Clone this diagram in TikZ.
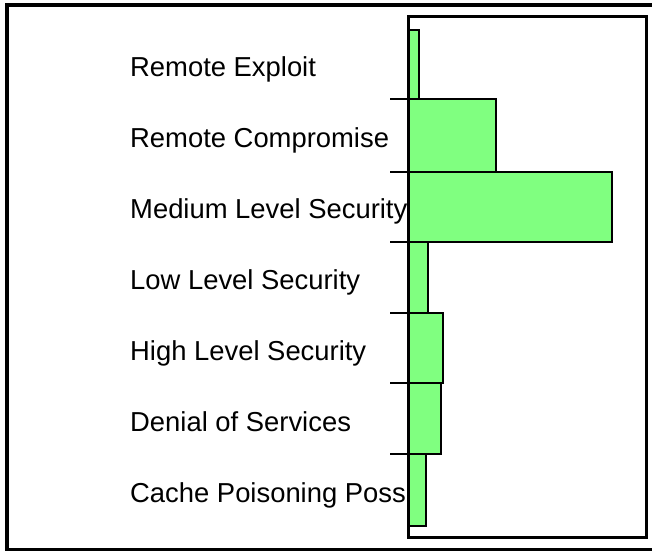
\documentclass[tikz,border=0pt]{standalone}
\usepackage{fontspec}
\setmainfont{Liberation Sans}
\usetikzlibrary{positioning}
\definecolor{bargreen}{RGB}{128,255,128}

\begin{document}
\begin{tikzpicture}[
    x=1pt, y=-1pt,
    outerframe/.style={draw, line width=3.8pt},
    plotframe/.style={draw, line width=2.7pt},
    bar/.style={draw, line width=2.2pt, fill=bargreen},
    tick/.style={draw, line width=1.8pt},
    cat/.style={anchor=base west, inner sep=0pt, font=\fontsize{27.4}{30}\selectfont}
]
\useasboundingbox (0,0) rectangle (652,552);

% Outer frame
\draw[outerframe] (7,5) rectangle (670,549.5);

% Category labels
\node[cat] (exploit)    at (130,76)  {Remote Exploit};
\node[cat] (compromise) at (130,147) {Remote Compromise};
\node[cat] (medium)     at (130,218) {Medium Level Security};
\node[cat] (low)        at (130,289) {Low Level Security};
\node[cat] (high)       at (130,360) {High Level Security};
\node[cat] (denial)     at (130,431) {Denial of Services};
\node[cat] (cache)      at (130,502) {Cache Poisoning Poss};

% Ticks
\foreach \y in {99.3,172.3,241.7,313.3,383.3,454.3}
    \draw[tick] (390,\y) -- (408.7,\y);

% Bars
\draw[bar] (408.7,29.7)  rectangle (418.7,99.3);
\draw[bar] (408.7,99.3)  rectangle (496,172.3);
\draw[bar] (408.7,172.3) rectangle (611.7,241.7);
\draw[bar] (408.7,241.7) rectangle (428.3,313.3);
\draw[bar] (408.7,313.3) rectangle (443.3,383.3);
\draw[bar] (408.7,383.3) rectangle (441,454.3);
\draw[bar] (408.7,454.3) rectangle (426,526);

% Plot area
\draw[plotframe] (408.7,16.7) rectangle (646.3,537.8);

\end{tikzpicture}
\end{document}
